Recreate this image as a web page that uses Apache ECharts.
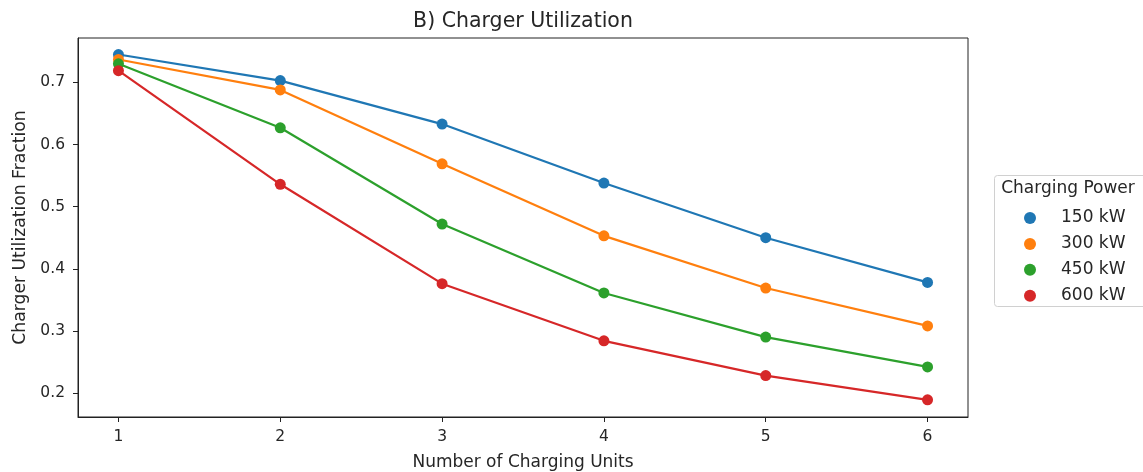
<!DOCTYPE html>
<html>
<head>
<meta charset="utf-8">
<script src="https://cdn.jsdelivr.net/npm/echarts@6/dist/echarts.min.js"></script>
<style>
  html, body { margin: 0; padding: 0; background: #fff; }
  #chart { width: 1143px; height: 472px; }
</style>
</head>
<body>
<div id="chart"></div>
<script>
// Number of charging units on the x axis
const units = [1, 2, 3, 4, 5, 6];

// Utilization fraction per charging power level
const power150 = [0.745, 0.703, 0.633, 0.538, 0.450, 0.378];
const power300 = [0.737, 0.688, 0.569, 0.453, 0.369, 0.308];
const power450 = [0.730, 0.627, 0.472, 0.361, 0.290, 0.242];
const power600 = [0.719, 0.536, 0.376, 0.284, 0.228, 0.189];

const seriesNames = ['150 kW', '300 kW', '450 kW', '600 kW'];
const seriesValues = [power150, power300, power450, power600];
const colors = ['#1f77b4', '#ff7f0e', '#2ca02c', '#d62728'];

const xTicks = [1, 2, 3, 4, 5, 6];
const yTicks = [0.2, 0.3, 0.4, 0.5, 0.6, 0.7];

const font = 'DejaVu Sans';
const ink = '#262626';

const chart = echarts.init(document.getElementById('chart'), null, { renderer: 'canvas' });

const series = seriesNames.map((name, i) => ({
  name: name,
  type: 'line',
  data: units.map((u, j) => [u, seriesValues[i][j]]),
  symbol: 'circle',
  symbolSize: 11,
  color: colors[i],
  lineStyle: { width: 2.2, color: colors[i] },
  itemStyle: { color: colors[i] },
  emphasis: { disabled: true },
  animation: false
}));

chart.setOption({
  backgroundColor: '#fff',
  animation: false,
  title: {
    text: 'B) Charger Utilization',
    left: 523,
    textAlign: 'center',
    top: 11,
    padding: 0,
    textStyle: { fontFamily: font, fontSize: 20.5, fontWeight: 'normal', color: ink }
  },
  grid: {
    left: 78, right: 175, top: 38, bottom: 55,
    outerBoundsMode: 'none',
    containLabel: false,
    show: true, borderColor: '#222', borderWidth: 1, backgroundColor: 'transparent'
  },
  legend: {
    data: seriesNames.map(n => ({ name: n, icon: 'circle' })),
    orient: 'vertical',
    left: 1024,
    top: 209.5,
    padding: 0,
    itemWidth: 12,
    itemHeight: 12,
    itemGap: 8.9,
    selectedMode: false,
    textStyle: {
      fontFamily: font, fontSize: 17, color: ink,
      lineHeight: 16, padding: [0, 0, 0, 20]
    }
  },
  graphic: [
    {
      type: 'rect',
      shape: { x: 994.5, y: 175.5, width: 160, height: 131, r: 3 },
      style: { fill: 'rgba(255,255,255,0.8)', stroke: '#d0d0d0', lineWidth: 1 },
      z: 0
    },
    {
      type: 'text',
      x: 1068, y: 189,
      style: {
        text: 'Charging Power', fontFamily: font, fontSize: 17,
        fill: ink, textAlign: 'center', textVerticalAlign: 'middle'
      },
      z: 1
    }
  ],
  xAxis: {
    type: 'value',
    min: 0.75,
    max: 6.25,
    name: 'Number of Charging Units',
    nameLocation: 'middle',
    nameGap: 37,
    nameTextStyle: { fontFamily: font, fontSize: 17, color: ink },
    axisLine: { show: true, onZero: false, lineStyle: { color: '#222', width: 1 } },
    axisTick: { show: true, length: 5, lineStyle: { color: '#222' }, customValues: xTicks },
    axisLabel: { fontFamily: font, fontSize: 15.5, color: ink, margin: 12, customValues: xTicks,
      formatter: v => String(v) },
    splitLine: { show: false }
  },
  yAxis: {
    type: 'value',
    min: 0.1613,
    max: 0.7716,
    name: 'Charger Utilization Fraction',
    nameLocation: 'middle',
    nameGap: 48,
    nameTextStyle: { fontFamily: font, fontSize: 17.2, color: ink },
    axisLine: { show: true, onZero: false, lineStyle: { color: '#222', width: 1 } },
    axisTick: { show: true, length: 5, lineStyle: { color: '#222' }, customValues: yTicks },
    axisLabel: { fontFamily: font, fontSize: 15.5, color: ink, margin: 13, customValues: yTicks,
      formatter: v => v.toFixed(1) },
    splitLine: { show: false }
  },
  series: series
});
</script>
</body>
</html>
